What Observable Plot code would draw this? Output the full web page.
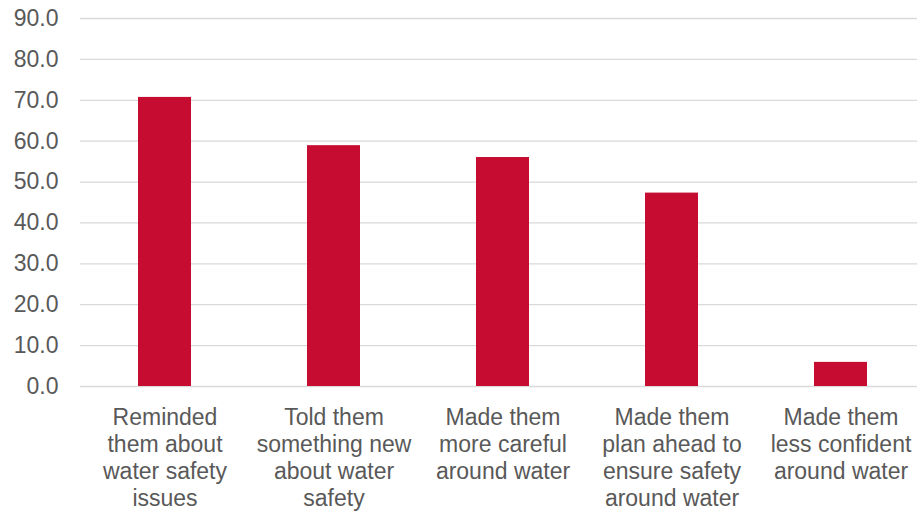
<!DOCTYPE html>
<html>
<head>
<meta charset="utf-8">
<script src="https://cdn.jsdelivr.net/npm/d3@7"></script>
<script src="https://cdn.jsdelivr.net/npm/@observablehq/plot@0.6"></script>
<style>
  html, body { margin: 0; padding: 0; background: #fff; overflow: hidden; }
  #chart svg { display: block; }
</style>
</head>
<body>
<div id="chart"></div>
<script>
const categories = [
  "Reminded\nthem about\nwater safety\nissues",
  "Told them\nsomething new\nabout water\nsafety",
  "Made them\nmore careful\naround water",
  "Made them\nplan ahead to\nensure safety\naround water",
  "Made them\nless confident\naround water"
];
const values = [70.7, 58.9, 56.0, 47.3, 5.9];
const yTicks = [0, 10, 20, 30, 40, 50, 60, 70, 80, 90];

const data = categories.map((c, i) => ({category: c, value: values[i]}));

const chart = Plot.plot({
  width: 917,
  height: 511,
  marginLeft: 80,
  marginRight: -9,
  marginTop: 18,
  marginBottom: 125,
  style: {fontFamily: "'Liberation Sans', Arial, sans-serif", fontSize: "23px", color: "#595959", background: "#fff"},
  x: {domain: categories, paddingInner: 0.686, paddingOuter: 0.343, label: null},
  y: {domain: [0, 90], ticks: yTicks, label: null},
  marks: [
    Plot.ruleY(yTicks, {stroke: "#D9D9D9", strokeWidth: 1.3}),
    Plot.barY(data, {x: "category", y: "value", fill: "#C60C30"}),
    Plot.axisY({ticks: yTicks, tickSize: 0, tickPadding: 22, tickFormat: d3.format(".1f"), fill: "#595959", fontSize: 23, label: null}),
    Plot.axisX({tickSize: 0, tickPadding: 19, fill: "#595959", fontSize: 23, lineHeight: 1.18, label: null})
  ]
});
document.getElementById("chart").appendChild(chart);
</script>
</body>
</html>
